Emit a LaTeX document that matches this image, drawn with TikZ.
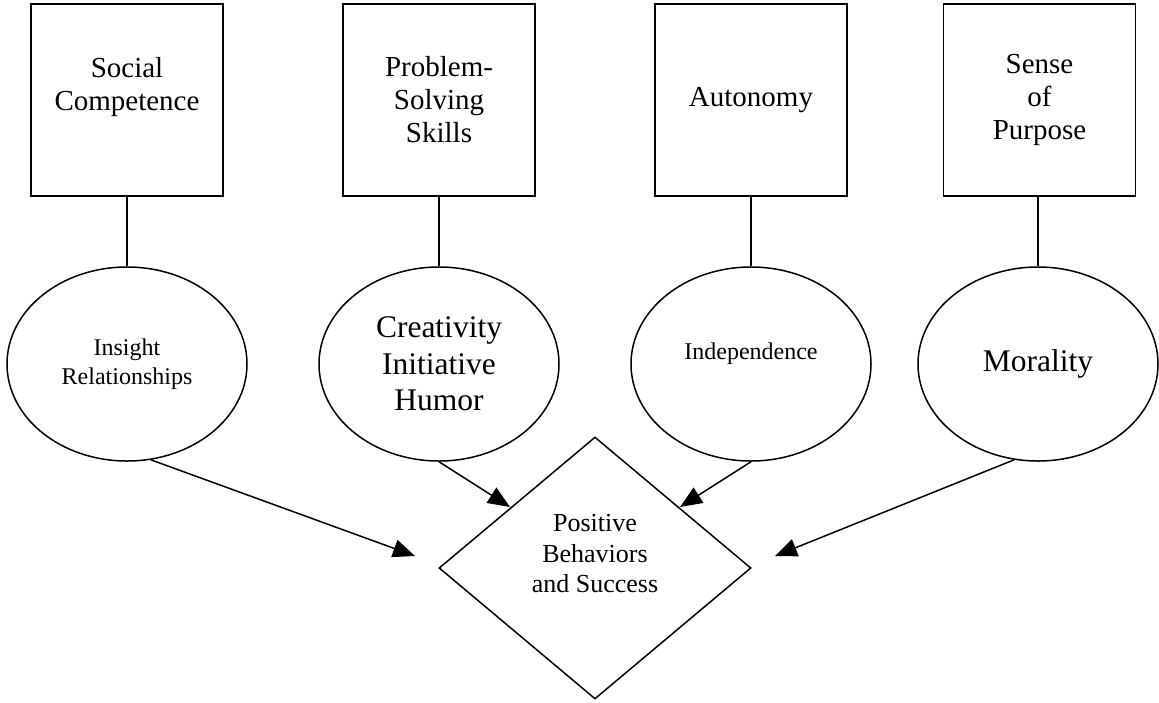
\documentclass[tikz,border=0pt]{standalone}
\usepackage{fontspec}
\setmainfont{Liberation Serif}
\usetikzlibrary{shapes.geometric,arrows.meta}
\begin{document}
\begin{tikzpicture}[x=1pt,y=-1pt,
  box/.style={draw, line width=1.5pt, minimum width=192pt, minimum height=192pt, inner sep=0pt, align=center, font=\fontsize{29}{33}\selectfont},
  oval/.style={draw, ellipse, line width=1.5pt, minimum width=240pt, minimum height=194pt, inner sep=0pt, align=center},
  smalltext/.style={font=\fontsize{24}{28.5}\selectfont},
  bigtext/.style={font=\fontsize{31.5}{36.5}\selectfont},
  goal/.style={draw, diamond, line width=1.5pt, minimum width=312pt, minimum height=262pt, inner sep=0pt},
  link/.style={line width=1.5pt},
  arr/.style={line width=1.5pt, -{Triangle[length=22pt,width=18pt]}}]
\useasboundingbox (0,0) rectangle (1159,702);

\node[box] (b1) at (127,100) {Social\\Competence\\\mbox{}};
\node[box] (b2) at (439,100) {Problem-\\Solving\\Skills};
\node[box] (b3) at (751,100) {Autonomy};
\node[box] (b4) at (1039.5,100) {Sense\\of\\Purpose};

\node[oval, smalltext] (e1) at (127,364) {Insight\\Relationships};
\node[oval, bigtext] (e2) at (439,364) {Creativity\\Initiative\\Humor};
\node[oval, label={[smalltext, yshift=10pt]center:Independence}] (e3) at (751,364) {};
\node[oval, bigtext] (e4) at (1038,364) {Morality};

\node[goal, label={[font=\fontsize{26}{30.5}\selectfont, align=center, yshift=14pt]center:Positive\\Behaviors\\and Success}] (d) at (595,568) {};

\draw[link] (b1.south) -- (e1.north);
\draw[link] (b2.south) -- (e2.north);
\draw[link] (b3.south) -- (e3.north);
\draw[link] (b4.south -| e4.north) -- (e4.north);

\coordinate (t1) at (415,556);
\coordinate (t2) at (510,507);
\coordinate (t3) at (680,507);
\coordinate (t4) at (775,556);

\draw[arr] (e1.-76) -- (t1);
\draw[arr] (e2.south) -- (t2);
\draw[arr] (e3.south) -- (t3);
\draw[arr] (e4.-104) -- (t4);
\end{tikzpicture}
\end{document}
